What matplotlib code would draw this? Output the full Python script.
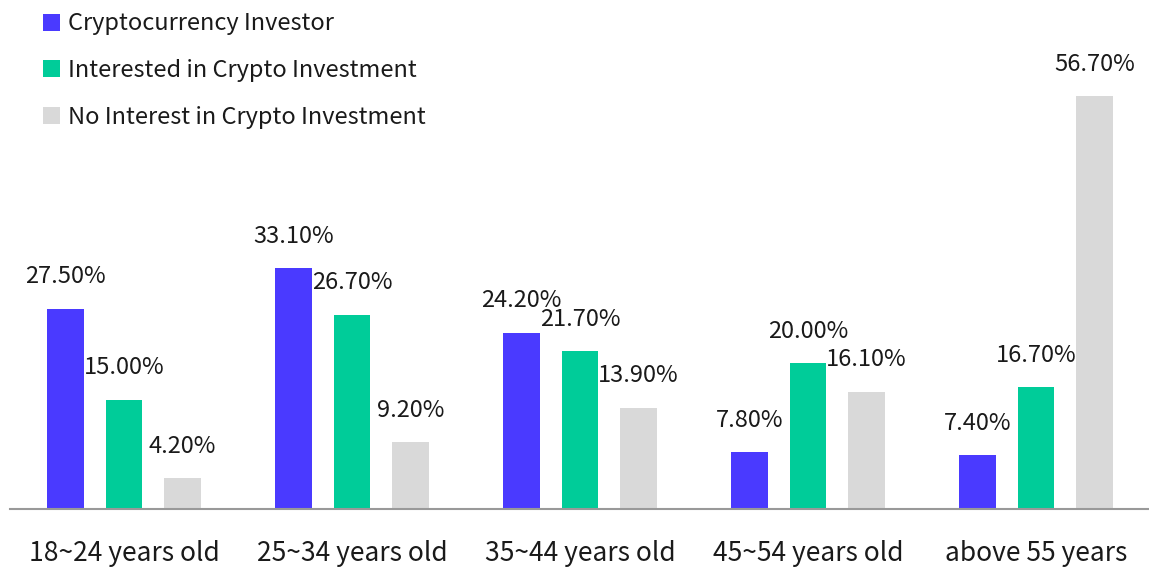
import matplotlib.pyplot as plt
import numpy as np

plt.rcParams['font.family'] = ['Noto Sans CJK SC', 'DejaVu Sans']

# data
age_groups = ["18~24 years old", "25~34 years old", "35~44 years old",
              "45~54 years old", "above 55 years"]
investor = [27.5, 33.1, 24.2, 7.8, 7.4]
interested = [15.0, 26.7, 21.7, 20.0, 16.7]
no_interest = [4.2, 9.2, 13.9, 16.1, 56.7]

series_names = ["Cryptocurrency Investor", "Interested in Crypto Investment",
                "No Interest in Crypto Investment"]
colors = ["#4a3aff", "#00cc99", "#d9d9d9"]

fig = plt.figure(figsize=(11.49, 5.69), dpi=100)
W, H = 1149, 569
ax = fig.add_axes([10 / W, (H - 509) / H, 1140 / W, 509 / H])

x = np.arange(len(age_groups))
width = 0.16
step = 0.257
handles = []
for i, (vals, name, c) in enumerate(zip([investor, interested, no_interest],
                                        series_names, colors)):
    bars = ax.bar(x + (i - 1) * step, vals, width, color=c, label=name)
    handles.append(bars)
    for b, v in zip(bars, vals):
        ax.annotate(f"{v:.2f}%", (b.get_x() + b.get_width() / 2, v),
                    xytext=(0, 32), textcoords="offset pixels",
                    ha="center", va="center", fontsize=17, color="#1a1a1a")

ax.set_xlim(-0.5, 4.5)
ax.set_ylim(0, 509 / 7.28)
ax.set_xticks(x)
ax.set_xticklabels(age_groups, fontsize=19, color="#1a1a1a")
ax.tick_params(axis="x", length=0, pad=22)
ax.set_yticks([])
for s in ["top", "right", "left"]:
    ax.spines[s].set_visible(False)
ax.spines["bottom"].set_color("#999999")
ax.spines["bottom"].set_linewidth(1.5)

leg = fig.legend(handles=handles, loc="upper left",
                 bbox_to_anchor=(34 / W, 1 - 3 / H), frameon=False,
                 fontsize=17, handlelength=0.72, handleheight=0.72,
                 handletextpad=0.33, labelspacing=1.0, borderaxespad=0)
for t in leg.get_texts():
    t.set_color("#1a1a1a")

fig.savefig("out.png", dpi=100)
